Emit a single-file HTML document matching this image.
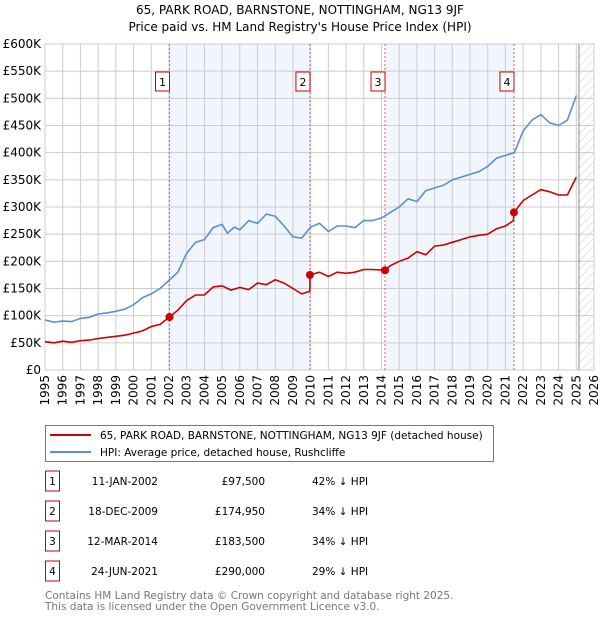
<!DOCTYPE html>
<html><head><meta charset="utf-8">
<style>
body{margin:0;width:600px;height:620px;background:#fff;font-family:"DejaVu Sans","Liberation Sans",sans-serif;overflow:hidden}
svg text{font-family:"DejaVu Sans","Liberation Sans",sans-serif}
</style></head>
<body>
<svg id="chart" width="600" height="620" xmlns="http://www.w3.org/2000/svg">
<text x="300" y="14" text-anchor="middle" font-size="12">65, PARK ROAD, BARNSTONE, NOTTINGHAM, NG13 9JF</text>
<text x="300" y="31" text-anchor="middle" font-size="12">Price paid vs. HM Land Registry's House Price Index (HPI)</text>
<g id="plot"></g>
<g id="legend">
<rect x="45.5" y="425.5" width="448" height="36" fill="#fff" stroke="#777"/>
<line x1="50" y1="435" x2="91" y2="435" stroke="#cc0000" stroke-width="2"/>
<text x="100" y="439" font-size="10.5">65, PARK ROAD, BARNSTONE, NOTTINGHAM, NG13 9JF (detached house)</text>
<line x1="50" y1="452" x2="91" y2="452" stroke="#5b8fd0" stroke-width="2"/>
<text x="100" y="456" font-size="10.5">HPI: Average price, detached house, Rushcliffe</text>
</g>
<g id="table"></g>
<text x="45" y="599" font-size="10.5" fill="#777">Contains HM Land Registry data © Crown copyright and database right 2025.</text>
<text x="45" y="610" font-size="10.5" fill="#777">This data is licensed under the Open Government Licence v3.0.</text>
</svg>
<script>
const yTicks=[0,50,100,150,200,250,300,350,400,450,500,550,600];
const yTickLabels=["£0","£50K","£100K","£150K","£200K","£250K","£300K","£350K","£400K","£450K","£500K","£550K","£600K"];
const xYears=[1995,1996,1997,1998,1999,2000,2001,2002,2003,2004,2005,2006,2007,2008,2009,2010,2011,2012,2013,2014,2015,2016,2017,2018,2019,2020,2021,2022,2023,2024,2025,2026];
const hpiT=[1995,1995.5,1996,1996.5,1997,1997.5,1998,1998.5,1999,1999.5,2000,2000.5,2001,2001.5,2002,2002.5,2003,2003.5,2004,2004.5,2005,2005.3,2005.7,2006,2006.5,2007,2007.5,2008,2008.5,2009,2009.5,2010,2010.5,2011,2011.5,2012,2012.5,2013,2013.5,2014,2014.5,2015,2015.5,2016,2016.5,2017,2017.5,2018,2018.5,2019,2019.5,2020,2020.5,2021,2021.5,2022,2022.5,2023,2023.5,2024,2024.5,2025];
const hpiV=[92,88,90,89,95,97,103,105,108,112,120,133,140,150,165,180,215,235,240,262,268,252,263,258,275,270,287,283,265,245,243,263,270,255,265,265,262,275,275,280,290,300,315,310,330,335,340,350,355,360,365,375,390,395,400,440,460,470,455,450,460,505];
const ppT=[1995,1995.5,1996,1996.5,1997,1997.5,1998,1998.5,1999,1999.5,2000,2000.5,2001,2001.5,2002.03,2002.5,2003,2003.5,2004,2004.5,2005,2005.5,2006,2006.5,2007,2007.5,2008,2008.5,2009,2009.5,2009.95,2009.97,2010.5,2011,2011.5,2012,2012.5,2013,2013.5,2014.2,2014.5,2015,2015.5,2016,2016.5,2017,2017.5,2018,2018.5,2019,2019.5,2020,2020.5,2021,2021.45,2021.48,2022,2022.5,2023,2023.5,2024,2024.5,2025];
const ppV=[52,50,53,51,54,55,58,60,62,64,68,72,80,84,97.5,110,128,138,138,153,155,147,152,148,160,157,166,160,150,140,145,174.95,180,172,180,178,180,185,185,183.5,192,200,206,218,212,228,230,235,240,245,248,250,260,265,275,290,312,322,332,328,322,322,355];
const saleT=[2002.03,2009.96,2014.2,2021.48];
const saleV=[97.5,174.95,183.5,290];
const saleLabels=["1","2","3","4"];
const saleDates=["11-JAN-2002","18-DEC-2009","12-MAR-2014","24-JUN-2021"];
const salePrices=["£97,500","£174,950","£183,500","£290,000"];
const saleDiffs=["42% ↓ HPI","34% ↓ HPI","34% ↓ HPI","29% ↓ HPI"];

const NS="http://www.w3.org/2000/svg";
const X0=45,X1=594,Y0=370,Y1=44;
const xs=t=>X0+(t-1995)/(2026-1995)*(X1-X0);
const ys=v=>Y0-v/600*(Y0-Y1);
function mk(tag,attrs,parent){const e=document.createElementNS(NS,tag);for(const k in attrs)e.setAttribute(k,attrs[k]);parent.appendChild(e);return e;}
const plot=document.getElementById('plot');
mk('rect',{x:X0,y:Y1,width:X1-X0,height:Y0-Y1,fill:'#fff'},plot);
// shaded periods
for(let i=0;i<saleT.length;i+=2){
 const r=mk('rect',{x:xs(saleT[i]),y:Y1,width:xs(saleT[i+1])-xs(saleT[i]),height:Y0-Y1,fill:'#eef3fc',opacity:0.8},plot);
 
 
}
// hatch
const defs=mk('defs',{},plot);
const pat=mk('pattern',{id:'hatch',width:6,height:6,patternUnits:'userSpaceOnUse',patternTransform:'rotate(45)'},defs);
mk('line',{x1:0,y1:0,x2:0,y2:6,stroke:'#ccc','stroke-width':1},pat);
const hx=xs(2025.15);
const hr=mk('rect',{x:hx,y:Y1,width:X1-hx,height:Y0-Y1,fill:'url(#hatch)'},plot);


// grid
yTicks.forEach((v,i)=>{
 mk('line',{x1:X0,x2:X1,y1:ys(v),y2:ys(v),stroke:'#ccc'},plot);
 const t=mk('text',{x:X0-4,y:ys(v)+4,'text-anchor':'end','font-size':'12'},plot);
 t.textContent=yTickLabels[i];
 
 
});
xYears.forEach(y=>{
 mk('line',{x1:xs(y),x2:xs(y),y1:Y1,y2:Y0,stroke:'#ccc'},plot);
 const t=mk('text',{x:0,y:0,'text-anchor':'end','font-size':'12',transform:`translate(${xs(y)+4},${Y0+5}) rotate(-90)`},plot);
 t.textContent=y;
 
 
});
mk('line',{x1:hx,x2:hx,y1:Y1,y2:Y0,stroke:'#999','stroke-width':1.2},plot);
mk('rect',{x:X0,y:Y1,width:X1-X0,height:Y0-Y1,fill:'none',stroke:'#ccc'},plot);
// sale vlines
saleT.forEach((t,i)=>{
 const l=mk('line',{x1:xs(t),x2:xs(t),y1:Y1,y2:Y0,stroke:'#e06060','stroke-dasharray':'2,2'},plot);
 
 
 const g=mk('g',{},plot);
 
 
 mk('rect',{x:xs(t)-14,y:72,width:14,height:19,fill:'#fff',stroke:'#cc0000'},g);
 const tx=mk('text',{x:xs(t)-7,y:86,'text-anchor':'middle','font-size':'11'},g);
 tx.textContent=saleLabels[i];
});
function line(T,V,color,name){
 const d=T.map((t,i)=>(i?'L':'M')+xs(t).toFixed(1)+','+ys(V[i]).toFixed(1)).join('');
 const p=mk('path',{d:d,fill:'none',stroke:color,'stroke-width':1.6},plot);
 
 
}
line(hpiT,hpiV,'#5b8fd0','hpi-line');
line(ppT,ppV,'#cc0000','property-line');
saleT.forEach((t,i)=>{
 const c=mk('circle',{cx:xs(t),cy:ys(saleV[i]),r:4,fill:'#cc0000'},plot);
 
 
});
// table
const tb=document.getElementById('table');
saleLabels.forEach((s,i)=>{
 const cy=483+i*30;
 const g=mk('g',{},tb);
 
 
 mk('rect',{x:45.5,y:cy-12,width:14,height:20,fill:'#fff',stroke:'#cc0000'},g);
 const a=mk('text',{x:52.5,y:cy+2,'text-anchor':'middle','font-size':'10.5'},g);a.textContent=s;
 const b=mk('text',{x:158,y:cy+2,'text-anchor':'end','font-size':'10.5'},g);b.textContent=saleDates[i];
 const c=mk('text',{x:265,y:cy+2,'text-anchor':'end','font-size':'10.5'},g);c.textContent=salePrices[i];
 const d=mk('text',{x:312,y:cy+2,'font-size':'10.5'},g);d.textContent=saleDiffs[i];
});
</script>
</body></html>
